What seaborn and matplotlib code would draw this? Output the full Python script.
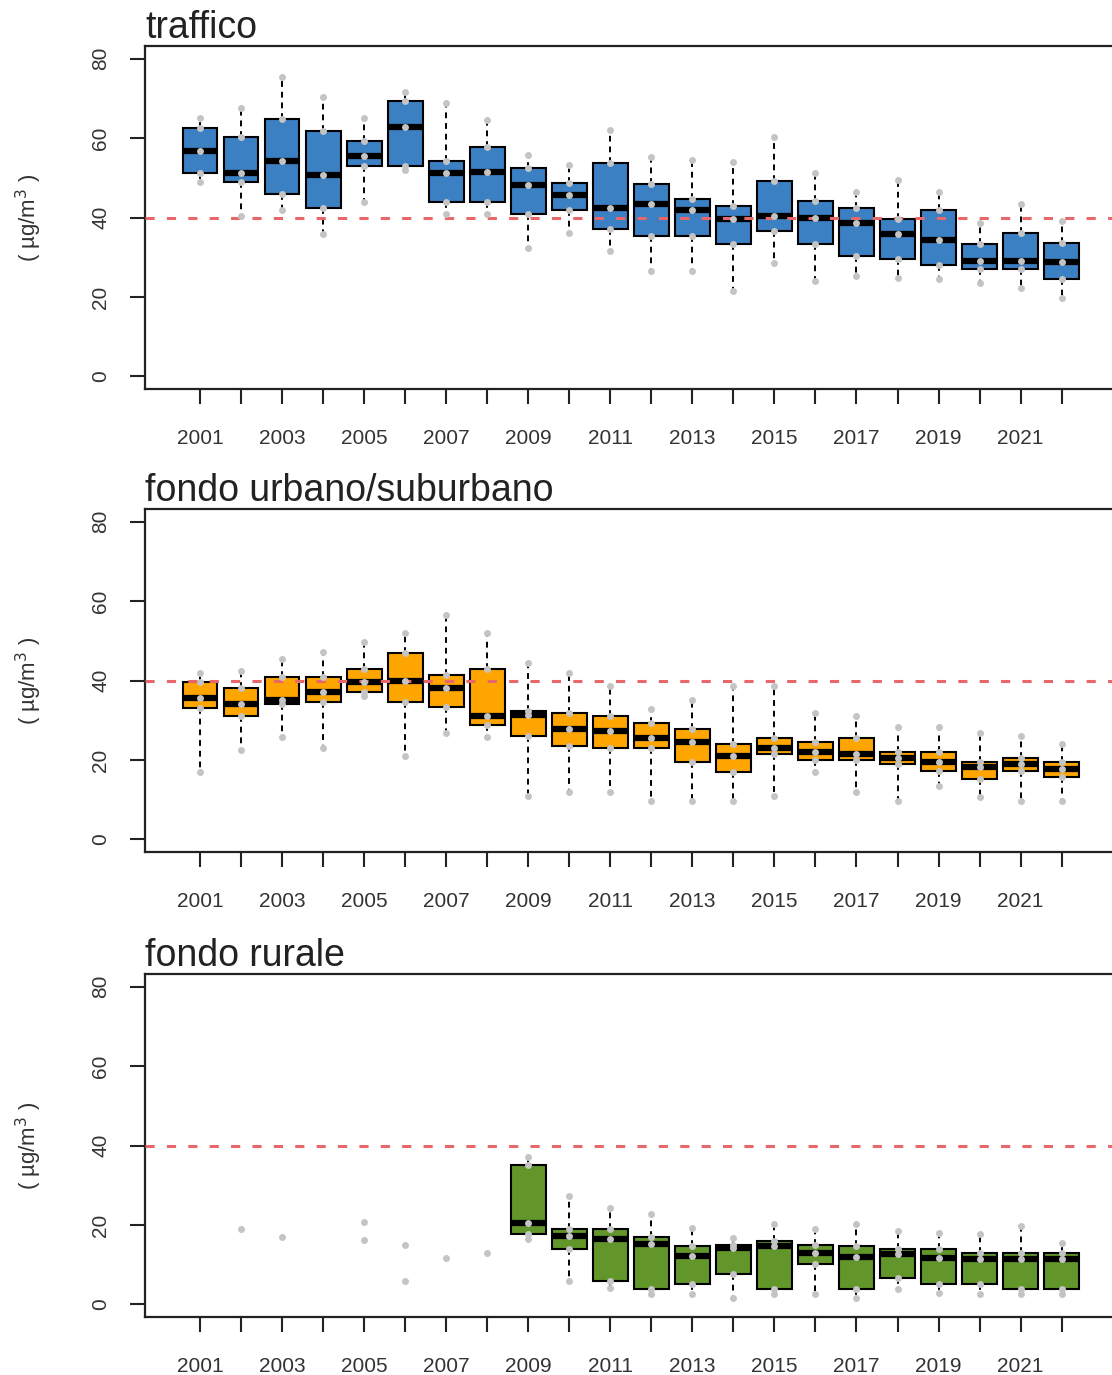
import matplotlib
matplotlib.use("Agg")
import matplotlib.pyplot as plt
import numpy as np
import pandas as pd
import seaborn as sns

# Years on the x axis
anni = [str(a) for a in range(2001, 2023)]

# traffico: min, q1, median, q3, max per year
traffico_min = [49, 40.5, 41.8, 35.9, 43.8, 51.9, 41, 41, 32.2, 36.2, 31.6,
                26.6, 26.6, 21.5, 28.6, 24.1, 25.3, 24.8, 24.6, 23.5, 22.3, 19.7]
traffico_q1 = [51.1, 48.9, 46, 42.3, 52.9, 52.9, 43.8, 43.8, 41, 42, 37,
               35.4, 35.4, 33.2, 36.5, 33.2, 30.4, 29.6, 28.1, 27.1, 27.1, 24.6]
traffico_med = [56.7, 51.1, 54.2, 50.6, 55.4, 62.8, 51.1, 51.4, 48.1, 45.6, 42.3,
                43.5, 41.8, 39.7, 40.5, 40, 38.7, 35.9, 34.4, 29.1, 29.1, 28.9]
traffico_q3 = [62.5, 60.3, 64.8, 61.8, 59.2, 69.4, 54.2, 57.7, 52.4, 48.6, 53.7,
               48.4, 44.6, 42.8, 49.1, 44.1, 42.3, 39.7, 41.8, 33.2, 36.2, 33.7]
traffico_max = [65, 67.6, 75.4, 70.4, 65, 71.6, 68.9, 64.6, 55.7, 53.2, 62,
                55.2, 54.4, 53.9, 60.3, 51.1, 46.3, 49.4, 46.3, 38.5, 43.5, 39.2]

# fondo urbano/suburbano
urbano_min = [16.9, 22.6, 25.7, 23.1, 36, 20.9, 26.9, 25.7, 10.8, 12, 11.8,
              9.6, 9.6, 9.6, 10.8, 16.9, 11.8, 9.6, 13.3, 10.6, 9.6, 9.6]
urbano_q1 = [33, 31, 34, 34.7, 37.2, 34.7, 33.2, 28.9, 25.9, 23.4, 23.1,
             23.1, 19.4, 16.9, 21.4, 19.9, 19.9, 18.9, 17.1, 15.1, 17.1, 15.8]
urbano_med = [35.5, 34.2, 35.2, 37, 39.5, 39.8, 38.2, 31, 31.2, 27.7, 27.2,
              25.4, 24.4, 20.9, 23.1, 22.1, 21.4, 20.6, 19.4, 18.1, 18.9, 17.6]
urbano_q3 = [39.5, 38.2, 41, 41, 42.8, 47, 41.3, 43, 32.2, 31.9, 31,
             29.2, 27.7, 23.9, 25.4, 24.4, 25.4, 22.1, 22.1, 19.4, 20.4, 19.4]
urbano_max = [42, 42.3, 45.3, 47.3, 49.6, 52, 56.6, 52, 44.5, 42, 38.5,
              32.7, 35.2, 38.5, 38.5, 31.9, 31, 28.2, 28.4, 26.9, 25.9, 23.9]

# fondo rurale: boxes only from 2009
rurale_anni = [str(a) for a in range(2009, 2023)]
rurale_min = [16.5, 5.8, 4.1, 2.5, 2.5, 1.5, 2.5, 2.5, 1.5, 3.8, 2.8, 2.5, 2.5, 2.5]
rurale_q1 = [17.7, 13.9, 5.8, 3.8, 5, 7.6, 3.8, 10.1, 3.8, 6.6, 5, 5, 3.8, 3.8]
rurale_med = [20.5, 17.2, 16.5, 15.2, 12.2, 14.2, 14.7, 12.9, 11.9, 12.7, 11.7, 11.4, 11.4, 11.4]
rurale_q3 = [35, 19, 19, 17, 14.7, 15, 16, 15, 14.7, 13.9, 13.9, 12.9, 12.9, 12.9]
rurale_max = [37, 27.3, 24.3, 22.8, 19.2, 16.7, 20.3, 19, 20.3, 18.5, 18, 17.7, 19.7, 15.4]
# single stations before 2009
rurale_punti_anni = ["2002", "2003", "2005", "2005", "2006", "2006", "2007", "2008"]
rurale_punti_val = [19, 17, 20.8, 16.2, 15, 5.8, 11.7, 12.9]

colori = ["#3B80C2", "#FFA500", "#62962A"]
titoli = ["traffico", "fondo urbano/suburbano", "fondo rurale"]


def to_long(years, *cols):
    rows = []
    for i, y in enumerate(years):
        for c in cols:
            rows.append((y, c[i]))
    return pd.DataFrame(rows, columns=["anno", "valore"])


df_traffico = to_long(anni, traffico_min, traffico_q1, traffico_med, traffico_q3, traffico_max)
df_urbano = to_long(anni, urbano_min, urbano_q1, urbano_med, urbano_q3, urbano_max)
df_rurale = to_long(rurale_anni, rurale_min, rurale_q1, rurale_med, rurale_q3, rurale_max)
df_rurale_pt = pd.concat([df_rurale,
                          pd.DataFrame({"anno": rurale_punti_anni, "valore": rurale_punti_val})])

box_data = [df_traffico, df_urbano, df_rurale]
pt_data = [df_traffico, df_urbano, df_rurale_pt]

sns.set_style("white")
plt.rcParams['font.family'] = ['Liberation Sans', 'DejaVu Sans']

W, H = 1112, 1375
fig = plt.figure(figsize=(W / 100, H / 100), dpi=100)

tops = [46, 509, 974]
ax_h = 343
left_px = 145
right_px = 1131

for k in range(3):
    ax = fig.add_axes([left_px / W, 1 - (tops[k] + ax_h) / H,
                       (right_px - left_px) / W, ax_h / H])

    sns.boxplot(data=box_data[k], x="anno", y="valore", order=anni, ax=ax,
                color=colori[k], saturation=1, width=0.85, whis=(0, 100),
                showcaps=False, linecolor="black", linewidth=1.5,
                medianprops=dict(color="black", linewidth=4.5),
                whiskerprops=dict(linestyle=(0, (3, 2.5)), linewidth=1.4))
    ax.axhline(40, color="#E8686A", lw=2.2, linestyle=(0, (3, 4)), zorder=5)
    sns.stripplot(data=pt_data[k], x="anno", y="valore", order=anni, ax=ax,
                  jitter=False, color="#C4C4C4", size=5, linewidth=0, zorder=6)

    ax.set_xlim(-1.34, (right_px - 200) / 41.03)
    ax.set_ylim(-3.2, 83.2)
    ax.set_yticks([0, 20, 40, 60, 80])
    ax.set_yticklabels(["0", "20", "40", "60", "80"], rotation=90, va="center")
    ax.set_xticks(range(len(anni)))
    ax.set_xticklabels([a if i % 2 == 0 else "" for i, a in enumerate(anni)])
    ax.tick_params(axis="both", direction="out", length=11, width=1.5,
                   labelsize=15, labelcolor="#333333", color="#222222")
    ax.tick_params(axis="x", pad=18, bottom=True)
    ax.tick_params(axis="y", pad=14, left=True)
    ax.set_xlabel("")
    ax.set_ylabel("( µg/m$^3$ )", fontsize=16, color="#333333", labelpad=34)
    for s in ax.spines.values():
        s.set_visible(True)
        s.set_color("#222222")
        s.set_linewidth(1.6)
    ax.set_title(titoli[k], loc="left", fontsize=27, pad=6, color="#222222")

fig.savefig("out.png", dpi=100, facecolor="white")
